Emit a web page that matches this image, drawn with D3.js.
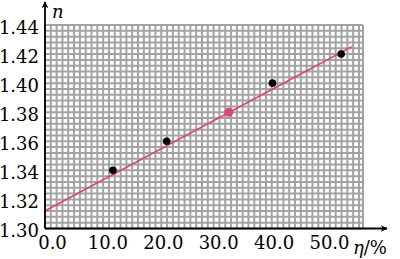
<!DOCTYPE html>
<html>
<head>
<meta charset="utf-8">
<script src="https://cdn.jsdelivr.net/npm/d3@7"></script>
<style>
  body { margin: 0; background: #fff; }
  svg { display: block; }
</style>
</head>
<body>
<div id="plot"></div>
<script>
// data
const etaValues = [11.0, 20.7, 31.9, 39.8, 52.2];   // η/%
const nValues = [1.340, 1.360, 1.380, 1.400, 1.420];  // n
const highlight = [false, false, true, false, false];
const fitEta = [-1.3, 54.1];
const fitN = [1.312, 1.425];
const xTicks = [0, 10, 20, 30, 40, 50];
const yTicks = [1.30, 1.32, 1.34, 1.36, 1.38, 1.40, 1.42, 1.44];
const xLabel = "η/%";
const yLabel = "n";

const width = 400, height = 259;
const axisX = 45, gridRight = 363;
const serif = "DejaVu Serif";

const x = d3.scaleLinear().domain([0, 50]).range([52, 329]);
const y = d3.scaleLinear().domain([1.30, 1.44]).range([228.5, 25]);

const svg = d3.select("#plot").append("svg")
  .attr("width", width)
  .attr("height", height)
  .attr("viewBox", [0, 0, width, height])
  .attr("font-family", serif)
  .attr("font-size", 18);

// graph paper
const cell = y(1.30) - y(1.304);
const grid = svg.append("g").attr("stroke", "#a3a3a3").attr("stroke-width", 2);
d3.range(1.30, 1.4401, 0.004).forEach(v => {
  grid.append("line").attr("x1", axisX).attr("x2", gridRight)
    .attr("y1", y(v)).attr("y2", y(v));
});
d3.range(axisX, gridRight + 0.5, cell).forEach(px => {
  grid.append("line").attr("x1", px).attr("x2", px)
    .attr("y1", y(1.44)).attr("y2", y(1.30));
});
grid.append("line").attr("x1", gridRight).attr("x2", gridRight)
  .attr("y1", y(1.44)).attr("y2", y(1.30));

// fitted line
svg.append("line")
  .attr("x1", x(fitEta[0])).attr("y1", y(fitN[0]))
  .attr("x2", x(fitEta[1])).attr("y2", y(fitN[1]))
  .attr("stroke", "#d9457f").attr("stroke-width", 1.6);

// points
svg.append("g").selectAll("circle")
  .data(etaValues)
  .join("circle")
  .attr("cx", (d) => x(d))
  .attr("cy", (d, i) => y(nValues[i]))
  .attr("r", (d, i) => highlight[i] ? 4.5 : 3.8)
  .attr("fill", (d, i) => highlight[i] ? "#d9457f" : "#000");

// axes with arrows
svg.append("defs").append("marker")
  .attr("id", "arrow")
  .attr("viewBox", "0 0 10 10")
  .attr("refX", 9).attr("refY", 5)
  .attr("markerWidth", 7).attr("markerHeight", 7)
  .attr("markerUnits", "userSpaceOnUse")
  .attr("orient", "auto")
  .append("path").attr("d", "M0,0 L10,5 L0,10 L3,5 Z").attr("fill", "#000");

svg.append("line")
  .attr("x1", axisX).attr("y1", y(1.30))
  .attr("x2", axisX).attr("y2", 2)
  .attr("stroke", "#000").attr("stroke-width", 1.8)
  .attr("marker-end", "url(#arrow)");
svg.append("line")
  .attr("x1", axisX).attr("y1", y(1.30))
  .attr("x2", 387).attr("y2", y(1.30))
  .attr("stroke", "#000").attr("stroke-width", 1.8)
  .attr("marker-end", "url(#arrow)");

svg.append("g")
  .attr("transform", `translate(39,0)`)
  .call(d3.axisLeft(y).tickValues(yTicks).tickSize(0).tickPadding(0).tickFormat(d3.format(".2f")))
  .call(g => g.select(".domain").remove())
  .call(g => g.attr("font-family", serif).attr("font-size", 18))
  .call(g => g.selectAll("text").attr("dy", "0.45em").attr("fill", "#000"));

svg.append("g")
  .attr("transform", `translate(0,${y(1.30)})`)
  .call(d3.axisBottom(x).tickValues(xTicks).tickSize(0).tickPadding(8).tickFormat(d3.format(".1f")))
  .call(g => g.select(".domain").remove())
  .call(g => g.attr("font-family", serif).attr("font-size", 18))
  .call(g => g.selectAll("text").attr("fill", "#000"));

svg.append("text")
  .attr("x", 353).attr("y", 254)
  .html(`<tspan font-style="italic">${xLabel.slice(0, 1)}</tspan>${xLabel.slice(1)}`);

svg.append("text")
  .attr("x", 52).attr("y", 18)
  .attr("font-style", "italic")
  .text(yLabel);
</script>
</body>
</html>
